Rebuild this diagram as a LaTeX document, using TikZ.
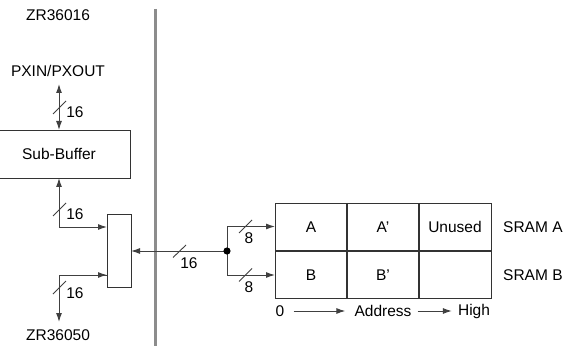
\documentclass[tikz,border=0pt]{standalone}
\usepackage{fontspec}
\setmainfont{Liberation Sans}
\usetikzlibrary{arrows.meta}
\begin{document}
\begin{tikzpicture}[x=1pt,y=-1pt,
  every node/.style={font=\fontsize{15.5}{18}\selectfont, inner sep=0pt},
  box/.style={draw=black!80, line width=1.2pt},
  conn/.style={draw=black!75, line width=1pt},
  arr/.style={conn, -{Latex[length=9pt,width=6pt]}},
  darr/.style={conn, {Latex[length=9pt,width=6pt]}-{Latex[length=9pt,width=6pt]}},
  slash/.style={draw=black!75, line width=0.9pt}]
\useasboundingbox (0,0) rectangle (576,350);
\clip (0,0) rectangle (576,350);
% divider
\draw[line width=2.6pt, draw=black!45] (155.5,9) -- (155.5,346);
% labels
\node (zr16) at (58,15) {ZR36016};
\node (pxin) at (58,71) {PXIN/PXOUT};
\node (zr50) at (58,335) {ZR36050};
% sub-buffer
\node[box, minimum width=140pt, minimum height=48pt, anchor=north east] (sb) at (131,130) {};
\node at (59,154) {Sub-Buffer};
% mux
\node[box, minimum width=24pt, minimum height=73pt, anchor=north west] (mux) at (107,214) {};
% coordinates
\coordinate (pxb) at (59,84);
\coordinate (sbt) at (59,130);
\coordinate (sbb) at (59,178);
\coordinate (c1) at (59,227);
\coordinate (m1) at (107,227);
\coordinate (c2) at (59,275);
\coordinate (m2) at (107,275);
\coordinate (z50) at (59,322);
\coordinate (mr) at (131,251);
\coordinate (j) at (227,251);
\coordinate (j1) at (227,226.5);
\coordinate (j2) at (227,275);
% SRAM table
\node[box, minimum width=216pt, minimum height=95pt, anchor=north west] (tab) at (275,203) {};
\coordinate (ta) at (275,226.5);
\coordinate (tb) at (275,275);
\draw[box] (347,203) -- (347,298);
\draw[box] (419,203) -- (419,298);
\draw[box] (275,251) -- (491,251);
\node (A) at (311,227) {A};
\node (Ap) at (383,227) {A'};
\node (U) at (455,227) {Unused};
\node (B) at (311,275) {B};
\node (Bp) at (383,275) {B'};
\node[anchor=west] (sa) at (503,227) {SRAM A};
\node[anchor=west] (sbm) at (503,275) {SRAM B};
% address line
\node (zero) at (280,311) {0};
\node (addr) at (383,311) {Address};
\node (high) at (474,311) {High};
\draw[arr] (zero.east) ++(9,0) -- ([xshift=-9pt]addr.west);
\draw[arr] ([xshift=6pt]addr.east) -- ([xshift=-6pt]high.west);
% connectors
\draw[darr] (pxb) -- (sbt);
\draw[arr] (c1) -- (sbb);
\draw[arr] (c1) -- (m1);
\draw[conn] (m2) -- (c2);
\draw[arr] (c2) -- (m2);
\draw[arr] (c2) -- (z50);
\draw[arr] (j) -- (mr);
\draw[conn] (j1) -- (j2);
\draw[arr] (j1) -- (ta);
\draw[arr] (j2) -- (tb);
\fill[black] (j) circle (3.6pt);
% bus slashes
\draw[slash] (53,114) -- (66,101);
\node (l1) at (75,112) {16};
\draw[slash] (53,216) -- (66,203);
\node (l2) at (75,214) {16};
\draw[slash] (53,294) -- (66,281);
\node (l3) at (75,293) {16};
\draw[slash] (173,257.5) -- (186,245);
\node (l4) at (189,263) {16};
\draw[slash] (239,233) -- (252,220);
\node (l5) at (249,238) {8};
\draw[slash] (239,281.5) -- (252,268.5);
\node (l6) at (249,287) {8};
\end{tikzpicture}
\end{document}
